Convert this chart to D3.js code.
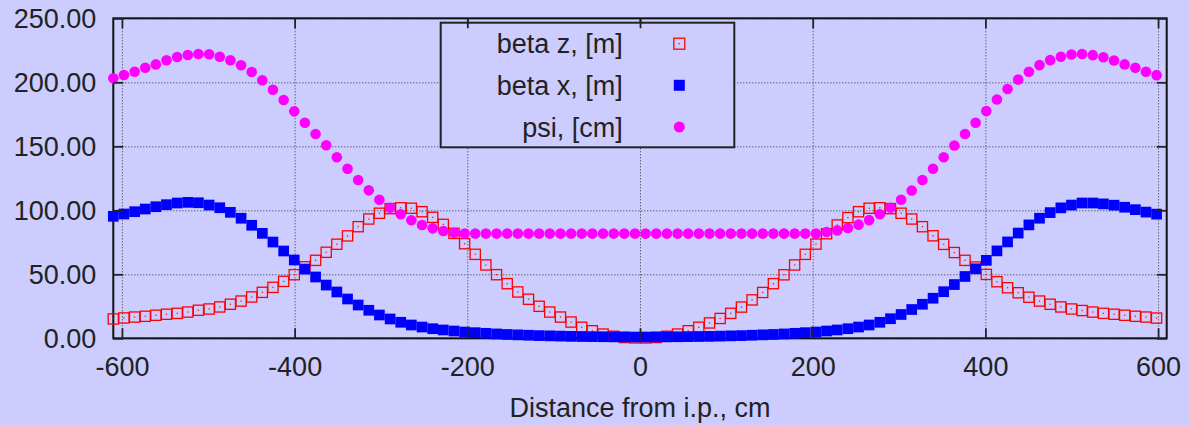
<!DOCTYPE html>
<html>
<head>
<meta charset="utf-8">
<script src="https://cdn.jsdelivr.net/npm/d3@7"></script>
<style>
    body { margin: 0; background: #ccccff; }
    text { font-family: "Liberation Sans", Arial, sans-serif; fill: #222; }
</style>
</head>
<body>
<div id="chart"></div>
<script>
// distance from i.p., cm
var xDist = [
    -610.0, -597.7, -585.3, -573.0, -560.7, -548.4, -536.0, -523.7, -511.4, -499.0,
    -486.7, -474.4, -462.0, -449.7, -437.4, -425.1, -412.7, -400.4, -388.1, -375.7,
    -363.4, -351.1, -338.7, -326.4, -314.1, -301.8, -289.4, -277.1, -264.8, -252.4,
    -240.1, -227.8, -215.4, -203.1, -190.8, -178.5, -166.1, -153.8, -141.5, -129.1,
    -116.8, -104.5, -92.1, -79.8, -67.5, -55.2, -42.8, -30.5, -18.2, -5.8,
    6.5, 18.8, 31.2, 43.5, 55.8, 68.1, 80.5, 92.8, 105.1, 117.5,
    129.8, 142.1, 154.5, 166.8, 179.1, 191.4, 203.8, 216.1, 228.4, 240.8,
    253.1, 265.4, 277.8, 290.1, 302.4, 314.7, 327.1, 339.4, 351.7, 364.1,
    376.4, 388.7, 401.1, 413.4, 425.7, 438.0, 450.4, 462.7, 475.0, 487.4,
    499.7, 512.0, 524.4, 536.7, 549.0, 561.3, 573.7, 586.0, 598.3
];

var betaZ = [
    15.1, 15.9, 16.6, 17.2, 18.0, 18.8, 19.5, 20.5, 21.9, 22.9,
    24.5, 26.6, 29.1, 32.3, 35.9, 39.8, 44.5, 49.7, 55.9, 60.9,
    67.2, 73.5, 80.0, 87.2, 93.2, 97.7, 101.3, 102.0, 101.6, 98.9,
    94.5, 89.0, 82.0, 73.9, 65.6, 57.3, 49.7, 42.7, 36.2, 30.5,
    25.0, 20.5, 16.6, 12.7, 8.6, 5.9, 3.3, 1.6, 0.6, 0.3,
    0.3, 0.6, 1.6, 3.3, 5.9, 8.6, 12.0, 15.5, 19.5, 24.4,
    30.0, 35.8, 42.7, 49.6, 57.3, 65.6, 73.6, 81.7, 88.5, 94.3,
    98.9, 101.6, 102.0, 101.3, 97.7, 93.2, 87.2, 80.1, 73.4, 67.0,
    60.9, 55.7, 49.9, 44.2, 39.5, 35.6, 32.1, 29.1, 26.6, 24.5,
    22.9, 21.7, 20.5, 19.5, 18.8, 18.0, 17.2, 16.6, 15.8
];

var betaX = [
    95.3, 97.1, 98.9, 101.0, 102.8, 104.4, 105.7, 106.2, 105.9, 104.1,
    102.0, 98.4, 93.8, 88.3, 82.0, 75.2, 68.2, 61.2, 54.1, 47.9,
    41.6, 36.2, 30.7, 26.0, 21.9, 18.2, 15.1, 12.5, 10.4, 8.8,
    7.5, 6.5, 5.7, 4.9, 4.4, 3.9, 3.4, 3.0, 2.7, 2.4,
    2.1, 1.9, 1.7, 1.5, 1.4, 1.3, 1.2, 1.1, 1.1, 1.0,
    1.0, 1.1, 1.1, 1.2, 1.3, 1.4, 1.5, 1.7, 1.9, 2.1,
    2.4, 2.7, 3.0, 3.4, 3.9, 4.4, 4.9, 5.7, 6.5, 7.5,
    8.8, 10.4, 12.5, 15.3, 18.6, 22.5, 26.6, 31.3, 36.4, 42.0,
    48.3, 54.3, 60.9, 68.3, 75.3, 82.2, 88.6, 93.8, 98.2, 101.9,
    104.1, 105.7, 105.7, 105.0, 104.0, 102.4, 100.5, 98.6, 97.0
];

var psi = [
    203.1, 205.7, 208.3, 211.4, 214.0, 217.2, 219.8, 221.3, 222.1, 221.9,
    220.0, 217.2, 213.3, 208.0, 201.6, 194.2, 186.2, 177.3, 168.4, 159.6,
    150.8, 141.4, 132.5, 123.7, 115.6, 108.3, 102.0, 96.9, 92.2, 88.5,
    85.9, 83.8, 82.5, 81.9, 81.8, 81.8, 81.8, 81.8, 81.8, 81.8,
    81.8, 81.8, 81.8, 81.8, 81.8, 81.8, 81.8, 81.8, 81.8, 81.8,
    81.8, 81.8, 81.8, 81.8, 81.8, 81.8, 81.8, 81.8, 81.8, 81.8,
    81.8, 81.8, 81.8, 81.8, 81.8, 81.8, 81.8, 83.0, 84.3, 86.2,
    88.8, 92.3, 96.9, 102.0, 108.3, 115.5, 123.7, 132.5, 141.4, 150.6,
    159.6, 168.4, 177.5, 186.6, 194.8, 202.1, 208.3, 213.4, 217.3, 220.0,
    221.7, 222.1, 221.2, 219.6, 217.0, 214.0, 211.3, 208.3, 205.6
];

var seriesNames = ["beta z, [m]", "beta x, [m]", "psi, [cm]"];
var xTicks = [-600, -400, -200, 0, 200, 400, 600];
var yTicks = [0, 50, 100, 150, 200, 250];
var xTitle = "Distance from i.p., cm";

// Set up the chart dimensions
var margin = { top: 18.3, right: 23.3, bottom: 86.7, left: 113.3 };
var width = 1190 - margin.left - margin.right;
var height = 425 - margin.top - margin.bottom;
var bg = "#ccccff";

var svg = d3.select("#chart")
    .append("svg")
    .attr("width", 1190)
    .attr("height", 425)
    .style("display", "block")
    .style("background", bg);

var g = svg.append("g")
    .attr("transform", "translate(" + margin.left + "," + margin.top + ")");

var x = d3.scaleLinear().domain([-610, 610]).range([0, width]);
var y = d3.scaleLinear().domain([0, 250]).range([height, 0]);

// dotted grid
g.append("g")
    .attr("class", "grid")
    .attr("transform", "translate(0," + height + ")")
    .call(d3.axisBottom(x).tickValues(xTicks).tickSize(-height).tickFormat(""));
g.append("g")
    .attr("class", "grid")
    .call(d3.axisLeft(y).tickValues(yTicks).tickSize(-width).tickFormat(""));
g.selectAll(".grid .domain").remove();
g.selectAll(".grid line")
    .attr("stroke", "#333")
    .attr("stroke-width", 1)
    .attr("stroke-dasharray", "1,2");

// legend box (hides the grid)
var legend = svg.append("g").attr("class", "legend");
legend.append("rect")
    .attr("x", 440.7)
    .attr("y", 22.7)
    .attr("width", 293.6)
    .attr("height", 124.6)
    .attr("fill", bg)
    .attr("stroke", "#222")
    .attr("stroke-width", 2);

// frame
g.append("rect")
    .attr("width", width)
    .attr("height", height)
    .attr("fill", "none")
    .attr("stroke", "#111")
    .attr("stroke-width", 2);

// beta z: open red squares with a dot
var sq = 10.2;
var zPts = g.append("g").selectAll("g")
    .data(xDist.map(function (d, i) { return [d, betaZ[i]]; }))
    .enter().append("g")
    .attr("transform", function (d) { return "translate(" + x(d[0]) + "," + y(d[1]) + ")"; });
zPts.append("rect")
    .attr("x", -sq / 2).attr("y", -sq / 2)
    .attr("width", sq).attr("height", sq)
    .attr("fill", "none")
    .attr("stroke", "#ff0000")
    .attr("stroke-width", 1.3);
zPts.append("rect")
    .attr("x", -0.6).attr("y", -0.6)
    .attr("width", 1.2).attr("height", 1.2)
    .attr("fill", "#ff0000");

// beta x: filled blue squares
var bs = 10.7;
g.append("g").selectAll("rect")
    .data(xDist.map(function (d, i) { return [d, betaX[i]]; }))
    .enter().append("rect")
    .attr("x", function (d) { return x(d[0]) - bs / 2; })
    .attr("y", function (d) { return y(d[1]) - bs / 2; })
    .attr("width", bs)
    .attr("height", bs)
    .attr("fill", "#0000ff");

// psi: magenta dots
g.append("g").selectAll("circle")
    .data(xDist.map(function (d, i) { return [d, psi[i]]; }))
    .enter().append("circle")
    .attr("cx", function (d) { return x(d[0]); })
    .attr("cy", function (d) { return y(d[1]); })
    .attr("r", 5.3)
    .attr("fill", "#ff00ff");

// axes with inward ticks
var xAxis = g.append("g")
    .attr("class", "axis")
    .attr("transform", "translate(0," + height + ")")
    .call(d3.axisBottom(x).tickValues(xTicks).tickSize(-10).tickFormat(function (d) { return String(d); }));
xAxis.selectAll("text")
    .attr("dy", null)
    .attr("y", 38)
    .style("font-size", "27px");

var yAxis = g.append("g")
    .attr("class", "axis")
    .call(d3.axisLeft(y).tickValues(yTicks).tickSize(-10).tickFormat(d3.format(".2f")));
yAxis.selectAll("text")
    .attr("x", -17)
    .attr("dy", "0.35em")
    .style("font-size", "27px");

g.append("g")
    .attr("class", "axis")
    .call(d3.axisTop(x).tickValues(xTicks).tickSize(-10).tickFormat(""));
g.append("g")
    .attr("class", "axis")
    .attr("transform", "translate(" + width + ",0)")
    .call(d3.axisRight(y).tickValues(yTicks).tickSize(-10).tickFormat(""));

g.selectAll(".axis .domain").remove();
g.selectAll(".axis .tick line")
    .attr("stroke", "#222")
    .attr("stroke-width", 1.8);
g.selectAll(".tick text").attr("fill", "#222");

// axis title
svg.append("text")
    .attr("x", margin.left + width / 2)
    .attr("y", 416.5)
    .attr("text-anchor", "middle")
    .style("font-size", "27px")
    .text(xTitle);

// legend entries
var legendRows = [43.7, 85.3, 127];
legend.selectAll(".lbl")
    .data(seriesNames)
    .enter().append("text")
    .attr("class", "lbl")
    .attr("x", 622.7)
    .attr("y", function (d, i) { return legendRows[i] + 9.6; })
    .attr("text-anchor", "end")
    .style("font-size", "27px")
    .text(function (d) { return d; });

var lx = 679.3;
legend.append("rect")
    .attr("x", lx - 5.5).attr("y", legendRows[0] - 5.5)
    .attr("width", 11).attr("height", 11)
    .attr("fill", "none").attr("stroke", "#ff0000").attr("stroke-width", 1.3);
legend.append("rect")
    .attr("x", lx - 0.6).attr("y", legendRows[0] - 0.6)
    .attr("width", 1.2).attr("height", 1.2)
    .attr("fill", "#ff0000");
legend.append("rect")
    .attr("x", lx - 5.5).attr("y", legendRows[1] - 5.5)
    .attr("width", 11).attr("height", 11)
    .attr("fill", "#0000ff");
legend.append("circle")
    .attr("cx", lx).attr("cy", legendRows[2])
    .attr("r", 5.5)
    .attr("fill", "#ff00ff");

// top ticks drawn over the legend box like in the original
svg.append("g")
    .attr("transform", "translate(" + margin.left + "," + margin.top + ")")
    .call(d3.axisTop(x).tickValues([-200, 0]).tickSize(-10).tickFormat(""))
    .call(function (s) {
        s.select(".domain").remove();
        s.selectAll("line").attr("stroke", "#222").attr("stroke-width", 1.8);
    });
</script>
</body>
</html>
